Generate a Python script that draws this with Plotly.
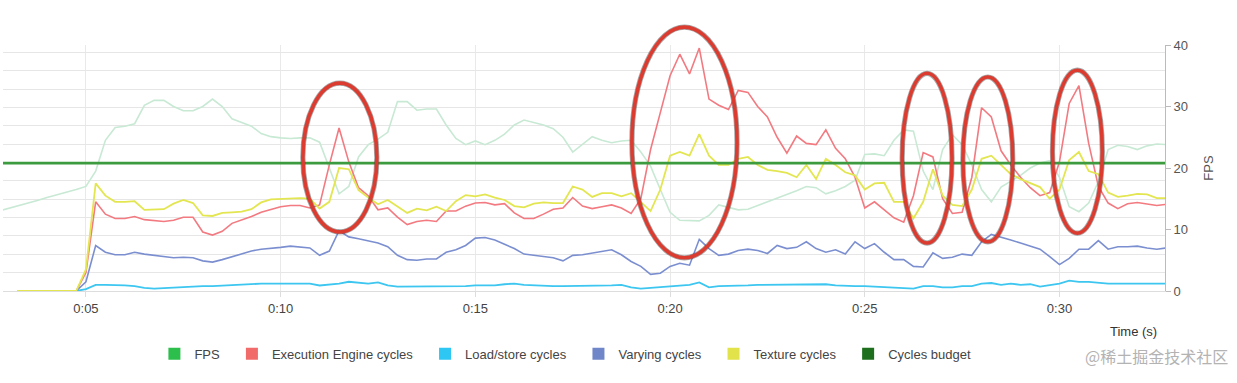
import plotly.graph_objects as go

# ---------------- data ----------------
# shared time axis (seconds), 0.25 s step
time_s = [2.75 + 0.25 * i for i in range(121)]

fps = [13.0, 13.4, 13.8, 14.3, 14.7, 15.2, 15.6, 16.1, 16.5,
       17.0, 19.5, 24.5, 26.6,
       26.8, 27.2, 30.2, 31.0,
       31.0, 30.0, 29.3, 29.3,
       30.0, 31.2, 30.0, 28.0,
       27.4, 26.8, 25.6, 25.1,
       24.9, 24.8, 24.9, 24.9,
       24.2, 20.0, 15.8, 17.0,
       21.8, 23.8, 24.7, 25.8,
       30.8, 30.8, 29.4, 29.6,
       29.6, 27.0, 24.8, 23.8,
       24.4, 23.8, 24.5, 25.5,
       27.0, 27.8, 27.4, 27.0,
       26.4, 25.0, 22.6, 23.8,
       25.1, 24.5, 24.1, 24.4,
       24.5, 22.6, 20.3, 16.5,
       12.8, 11.5, 11.5, 11.4,
       12.3, 14.0, 13.6, 13.2,
       13.3, 13.9, 14.5, 15.0,
       15.7, 16.3, 17.0, 16.8,
       15.8, 16.3, 17.0, 18.0,
       22.2, 22.3, 22.0, 24.5,
       26.2, 26.0, 19.5, 16.5,
       23.0, 25.4, 23.8, 20.5,
       16.5, 14.5, 16.9, 17.8,
       18.8, 20.0, 20.8, 21.2,
       18.5, 13.7, 12.9, 14.3,
       17.8, 23.0, 23.7, 23.5,
       23.0, 23.6, 23.9, 23.8]

exec_engine = [None, None, 0, 0, 0, 0, 0, 0, 0,
               3.0, 14.5, 12.5, 11.8,
               11.8, 12.1, 11.6, 11.4,
               11.3, 11.5, 12.0, 12.0,
               9.6, 9.1, 9.7, 11.0,
               11.5, 12.1, 12.8, 13.3,
               13.7, 13.9, 13.9, 13.5,
               14.0, 20.5, 26.5, 21.0,
               16.8, 15.5, 13.2, 13.5,
               12.0, 10.8, 11.3, 11.5,
               11.3, 13.0, 13.0, 13.8,
               14.3, 14.4, 14.0, 14.2,
               12.7, 11.8, 11.8, 12.5,
               13.3, 13.5, 15.2, 13.8,
               13.4, 13.7, 14.0, 13.5,
               12.6, 15.0, 23.0, 29.0,
               35.0, 38.5, 35.3, 39.5,
               31.2, 30.2, 29.5, 32.6,
               32.3, 30.0, 28.3, 25.0,
               22.4, 25.2, 24.0, 23.8,
               26.2, 23.2, 21.5, 18.5,
               13.5, 14.5, 13.2, 11.9,
               11.2, 15.5, 22.5, 21.8,
               15.0, 12.6, 12.8, 18.5,
               29.8, 28.3, 22.8, 20.5,
               18.5, 16.8, 15.5, 16.0,
               21.0, 30.5, 33.4, 24.0,
               17.0, 14.3, 13.4, 14.2,
               14.4, 14.1, 13.9, 14.1]

load_store = [None, None, 0, 0, 0, 0, 0, 0, 0,
              0.3, 1.0, 1.0, 1.0,
              0.9, 0.8, 0.5, 0.4,
              0.5, 0.6, 0.7, 0.8,
              0.8, 0.8, 0.9, 0.9,
              1.0, 1.1, 1.2, 1.2,
              1.2, 1.2, 1.2, 1.2,
              0.9, 1.0, 1.2, 1.5,
              1.3, 1.2, 1.4, 0.9,
              0.7, 0.7, 0.7, 0.7,
              0.7, 0.8, 0.8, 0.8,
              0.9, 0.9, 0.9, 1.1,
              1.2, 1.0, 0.9, 0.9,
              0.8, 0.8, 0.8, 0.8,
              0.8, 0.8, 0.9, 1.0,
              0.6, 0.4, 0.5, 0.6,
              0.7, 0.8, 1.0, 1.4,
              0.6, 0.8, 0.8, 0.8,
              0.9, 1.0, 1.0, 1.1,
              1.0, 1.1, 1.1, 1.0,
              1.1, 0.9, 0.8, 0.8,
              0.8, 0.7, 0.7, 0.5,
              0.4, 0.4, 0.8, 0.8,
              0.6, 0.6, 0.8, 0.8,
              1.2, 1.3, 1.0, 1.2,
              1.0, 1.1, 0.7, 0.9,
              1.2, 1.7, 1.5, 1.5,
              1.3, 1.2, 1.2, 1.2,
              1.3, 1.2, 1.2, 1.2]

varying = [None, None, 0, 0, 0, 0, 0, 0, 0,
           1.5, 7.4, 6.3, 5.9,
           5.9, 6.3, 6.0, 5.8,
           5.6, 5.4, 5.5, 5.4,
           4.9, 4.7, 5.1, 5.6,
           6.0, 6.5, 6.8, 6.9,
           7.1, 7.3, 7.2, 7.0,
           5.8, 6.5, 9.8, 8.8,
           8.5, 8.2, 7.8, 7.2,
           5.8, 5.1, 5.0, 5.2,
           5.2, 6.3, 6.7, 7.4,
           8.6, 8.7, 8.3, 7.6,
           6.9, 6.0, 5.8, 5.6,
           5.4, 4.9, 5.8, 5.9,
           6.2, 6.4, 6.7, 5.9,
           4.8, 4.0, 2.7, 2.9,
           4.0, 4.5, 4.2, 8.4,
           6.9, 5.8, 6.0, 6.6,
           6.8, 6.6, 6.1, 7.4,
           6.9, 7.1, 8.0, 6.9,
           6.3, 6.7, 6.0, 8.0,
           6.9, 7.7, 6.3, 5.1,
           5.1, 4.0, 3.9, 6.2,
           5.3, 5.5, 6.0, 5.8,
           8.0, 9.2, 8.8, 8.3,
           7.8, 7.3, 6.8, 5.6,
           4.3, 5.3, 6.8, 6.8,
           8.2, 6.8, 7.2, 7.2,
           7.3, 7.0, 6.8, 7.0]

texture = [None, None, 0, 0, 0, 0, 0, 0, 0,
           3.5, 17.5, 15.5, 14.5,
           14.5, 14.6, 13.2, 13.2,
           13.3, 14.2, 14.8, 14.3,
           12.3, 12.2, 12.7, 12.8,
           12.9, 13.3, 14.4, 14.9,
           15.0, 15.0, 15.1, 15.0,
           13.4, 14.5, 20.0, 19.8,
           16.4, 15.2, 14.1, 14.8,
           13.8, 12.7, 13.4, 13.1,
           13.7, 13.0, 14.6, 15.6,
           15.4, 15.7, 15.2, 14.8,
           13.8, 13.6, 14.2, 14.4,
           14.3, 14.3, 17.0, 16.5,
           15.3, 15.9, 15.9, 15.4,
           15.9, 14.5, 13.0, 16.5,
           22.0, 22.6, 22.0, 25.5,
           22.0, 20.5, 20.5, 21.5,
           21.8, 20.5, 19.7, 19.5,
           19.2, 18.5, 20.5, 18.2,
           21.5, 20.5, 19.3, 18.8,
           16.5, 17.5, 17.6, 14.5,
           14.5, 11.8, 14.5, 19.8,
           15.5, 14.0, 13.8, 16.5,
           21.5, 22.0, 20.5, 19.0,
           18.2, 17.5, 16.9, 15.0,
           16.5, 21.3, 22.6, 19.5,
           19.0, 16.0, 15.3, 15.5,
           15.8, 15.7, 15.1, 15.1]

cycles_budget_value = 20.8

tick_seconds = [5, 10, 15, 20, 25, 30]
tick_labels = ["0:05", "0:10", "0:15", "0:20", "0:25", "0:30"]
fps_ticks = [0, 10, 20, 30, 40]

# highlighted regions (time start, time end, value low, value high)
highlight_t0 = [10.57, 19.02, 25.96, 27.52, 29.82]
highlight_t1 = [12.47, 21.72, 27.24, 28.80, 31.10]
highlight_v0 = [9.6, 5.4, 7.8, 8.0, 9.4]
highlight_v1 = [33.8, 42.9, 35.4, 34.8, 35.9]

series_names = ["FPS", "Execution Engine cycles", "Load/store cycles",
                "Varying cycles", "Texture cycles", "Cycles budget"]
line_colors = ["#c8e9d4", "#f27a80", "#3cc6f0", "#7b8fd0", "#e3e650", "#3d9b3f"]
swatch_colors = ["#2dbf4c", "#f26b6b", "#2ec6f2", "#6f86c9", "#e2e24a", "#1d6f1d"]

X_MIN, X_MAX = 2.87, 32.71
Y_MIN, Y_MAX = 0, 40

FONT = "Liberation Sans, Arial, Helvetica, sans-serif"

fig = go.Figure()

series_values = [fps, exec_engine, load_store, varying, texture,
                 [cycles_budget_value] * len(time_s)]
widths = [1.6, 1.6, 1.8, 1.6, 1.8, 2.6]
for name, vals, col, w in zip(series_names, series_values, line_colors, widths):
    fig.add_trace(go.Scatter(x=time_s, y=vals, mode="lines", name=name,
                             line=dict(color=col, width=w), showlegend=False,
                             hoverinfo="skip"))

# invisible trace that carries the fine horizontal grid axis
fig.add_trace(go.Scatter(x=[None], y=[None], yaxis="y2", showlegend=False,
                         hoverinfo="skip"))

# legend entries with square swatches (extra non-breaking spaces widen the gaps)
pad = "\u00a0\u00a0"
for i, (name, col) in enumerate(zip(series_names, swatch_colors)):
    label = name + (pad if i < len(series_names) - 1 else "")
    fig.add_trace(go.Scatter(x=[None], y=[None], mode="markers", name=label,
                             marker=dict(symbol="square", size=12, color=col),
                             showlegend=True))

# ellipses around the spikes (converted to paper space so they are not clipped)
def to_px(t):
    return (t - X_MIN) / (X_MAX - X_MIN)

def to_py(v):
    return (v - Y_MIN) / (Y_MAX - Y_MIN)

for t0, t1, v0, v1 in zip(highlight_t0, highlight_t1, highlight_v0, highlight_v1):
    fig.add_shape(type="circle", xref="paper", yref="paper",
                  x0=to_px(t0), x1=to_px(t1), y0=to_py(v0), y1=to_py(v1),
                  line=dict(color="rgba(60,60,60,0.45)", width=5.2))
    fig.add_shape(type="circle", xref="paper", yref="paper",
                  x0=to_px(t0), x1=to_px(t1), y0=to_py(v0), y1=to_py(v1),
                  line=dict(color="#dc3b30", width=3.6))

fig.update_layout(
    width=1237, height=383,
    margin=dict(l=3, r=72, t=45, b=92),
    paper_bgcolor="white", plot_bgcolor="white",
    font=dict(family=FONT, size=13, color="#444"),
    showlegend=True,
    legend=dict(orientation="h", x=0.484, xanchor="center", y=-0.255,
                yanchor="middle", font=dict(size=13, color="#444"),
                itemwidth=30, bgcolor="rgba(0,0,0,0)"),
    xaxis=dict(range=[X_MIN, X_MAX], tickvals=tick_seconds, ticktext=tick_labels,
               showgrid=True, gridcolor="#e9e9e9", gridwidth=1,
               ticks="outside", ticklen=5, tickcolor="#dddddd",
               showline=True, linecolor="#dddddd", linewidth=1,
               zeroline=False, tickfont=dict(size=13, color="#444")),
    yaxis=dict(range=[Y_MIN, Y_MAX], side="right", tickvals=fps_ticks,
               showgrid=False, zeroline=False,
               showline=True, linecolor="#bbbbbb", linewidth=1,
               ticks="outside", ticklen=5, tickcolor="#bbbbbb",
               tickfont=dict(size=13, color="#555"),
               title=dict(text="FPS", font=dict(size=13, color="#555"), standoff=16)),
    yaxis2=dict(range=[0, 40 / 2.982], overlaying="y", side="left", dtick=1,
                tick0=0, showgrid=True, gridcolor="#e6e6e6", gridwidth=1,
                showticklabels=False, ticks="", showline=False, zeroline=False),
)

fig.add_annotation(text="Time (s)", xref="paper", yref="paper", x=0.995, y=-0.163,
                   xanchor="right", yanchor="middle", showarrow=False,
                   font=dict(size=13, color="#333"))
fig.add_annotation(text="@稀土掘金技术社区", xref="paper", yref="paper", x=1.056,
                   y=-0.265, xanchor="right", yanchor="middle", showarrow=False,
                   font=dict(size=16, color="#b3b3b3",
                             family="Noto Sans CJK SC, sans-serif"))

fig.write_html("out.html", config={"displayModeBar": False},
               post_script="document.body.style.margin='0px';")
